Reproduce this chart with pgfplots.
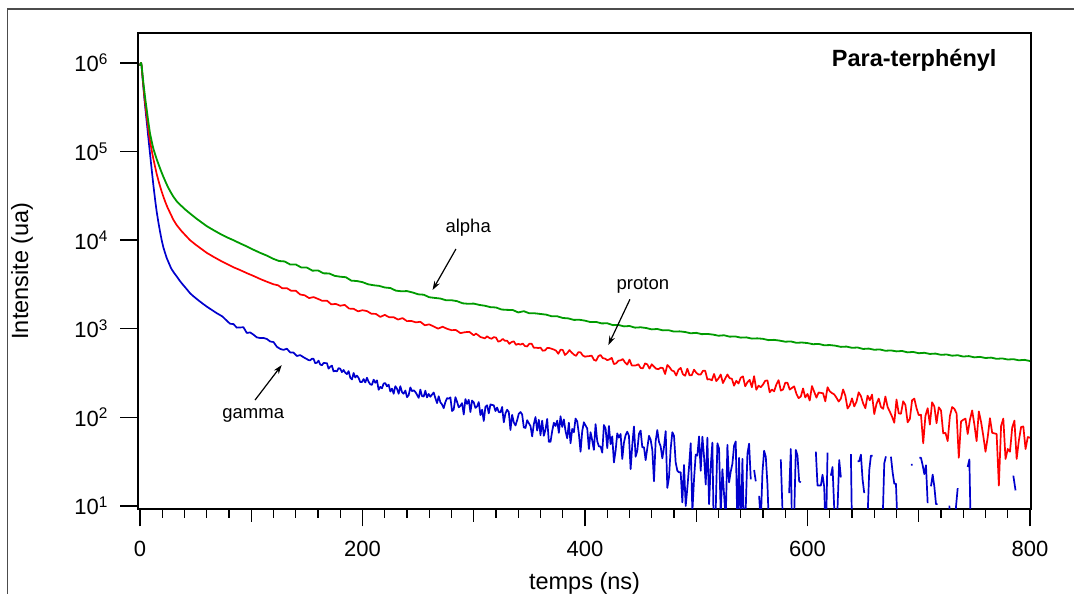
\documentclass[border=0pt]{standalone}
\usepackage{fontspec}
\setmainfont{Liberation Sans}
\usepackage{pgfplots}
\pgfplotsset{compat=1.18}
\usepackage{pgfplotstable}
\usetikzlibrary{arrows.meta}
\definecolor{cgreen}{RGB}{0,155,0}
\definecolor{cred}{RGB}{255,0,0}
\definecolor{cblue}{RGB}{0,0,205}
\begin{document}
\pgfplotstableread{
t v
0 930000
0.5 990000
1 1000000
1.5 930000
2 800000
3 600000
4 470000
5 370000
6 300000
7 240000
8 195000
9 160000
10 140000
11 122000
12 108000
13.5 94000
15 82000
17 70000
19 60000
21 52000
23 45500
25 40000
27.5 35000
30 31000
33 27500
37 24500
41 22000
45 20000
50 17800
55 16000
60 14400
66 13000
72 11800
78 10800
84 10000
90 9200
96 8500
102 7800
108 7200
114 6700
120 6150
125 5820
130 5755
135 5315
140 5320
145 4915
150 4910
155 4530
160 4555
165 4225
170 4215
175 3960
180 3870
185 3820
190 3495
195 3460
200 3360
205 3180
210 3100
215 3050
220 2925
225 2885
230 2695
235 2650
240 2665
245 2570
250 2450
255 2425
260 2270
265 2230
270 2195
275 2100
280 2100
285 2050
290 1940
295 1915
300 1925
305 1860
310 1820
315 1755
320 1740
325 1650
330 1635
335 1630
340 1530
345 1580
350 1495
355 1495
360 1470
365 1445
370 1385
375 1385
380 1325
385 1310
390 1260
395 1265
400 1235
405 1190
410 1195
415 1150
420 1155
425 1100
430 1105
435 1065
440 1075
445 1030
450 1040
455 1020
460 985
465 995
470 960
475 965
480 930
485 935
490 920
495 890
500 900
505 870
510 875
515 860
520 835
525 845
530 815
535 820
540 795
545 800
550 775
555 780
560 770
565 745
570 750
575 735
580 715
585 720
590 695
595 700
600 690
605 670
610 675
615 652
620 655
625 645
630 625
635 630
640 610
645 615
650 592
655 598
660 580
665 585
670 565
675 570
680 556
685 562
690 542
695 548
700 530
705 536
710 520
715 525
720 508
725 513
730 497
735 503
740 486
745 492
750 476
755 482
760 468
765 473
770 458
775 463
780 450
785 454
790 441
795 446
800 433
}\alphadata
\pgfplotstableread{
t v
0 930000
0.5 990000
1 1000000
1.5 920000
2 760000
3 560000
4 410000
5 320000
6 250000
7 200000
8 158000
9 132000
10 112000
11 96000
12 83000
13.5 68000
15 56000
17 45000
19 37000
21 31000
23 26500
25 23000
27.5 19800
30 17000
33 14800
37 12800
41 11300
45 10000
50 8900
55 8000
60 7200
66 6500
72 5900
78 5400
84 4950
90 4600
96 4250
102 3950
108 3650
114 3400
120 3180
124 3100
128 2860
132 2875
136 2680
140 2690
144 2435
148 2390
152 2220
156 2280
160 2175
164 2065
168 2080
172 1885
176 1910
180 1820
184 1860
188 1690
192 1680
196 1575
200 1620
204 1585
208 1478
212 1472
216 1362
220 1435
224 1350
228 1350
232 1272
236 1320
240 1220
244 1225
248 1182
252 1200
256 1096
260 1122
264 1062
268 1004
272 1055
276 1000
280 965
284 969
288 893
292 915
296 924
300 845
302 881
304 847
306 808
308 794
310 780
312 822
314 788
316 772
318 805
320 796
322 716
324 729
326 769
328 733
330 734
332 676
334 709
336 722
338 659
340 676
342 662
344 681
346 639
348 632
350 678
352 680
354 611
356 613
358 606
360 613
362 566
364 569
366 607
368 606
370 595
372 583
374 566
376 522
378 580
380 578
382 506
384 532
386 575
388 540
390 511
392 495
394 545
396 542
398 500
400 484
402 490
404 492
406 498
408 447
410 435
412 491
414 506
416 466
418 461
420 442
422 452
424 470
426 400
428 407
430 436
432 441
434 455
436 416
438 394
440 449
442 386
444 384
446 387
448 398
450 361
452 358
454 407
456 396
458 355
460 398
462 374
464 354
466 350
468 364
470 360
472 309
474 390
476 368
478 339
480 331
482 297
484 345
486 362
488 307
490 295
492 354
494 298
496 300
498 346
500 319
502 305
504 305
506 335
508 337
510 268
512 270
514 262
516 309
518 257
520 275
522 305
524 244
526 274
528 305
530 277
532 273
534 228
536 259
538 241
540 281
542 290
544 224
546 250
548 265
550 219
552 292
554 205
556 228
558 219
560 235
562 259
564 261
566 192
568 206
570 197
572 235
574 263
576 201
578 206
580 246
582 246
584 206
586 215
588 224
590 185
592 165
594 172
596 212
598 168
600 184
602 155
604 226
606 195
608 167
610 191
612 189
614 187
616 152
618 219
620 197
622 188
624 182
626 167
628 151
630 163
632 207
634 176
636 126
638 137
640 164
642 133
644 150
646 192
648 174
650 144
652 127
654 176
656 156
658 181
660 109
662 142
664 163
666 131
668 125
670 172
672 131
674 116
676 102
678 87
680 159
682 111
684 110
686 152
688 138
690 88
692 96
694 156
696 163
698 127
700 106
702 107
704 51
706 104
708 127
710 83
712 148
714 133
716 86
718 130
720 120
722 66
724 67
726 54
728 104
730 131
732 125
734 111
736 35
738 90
740 94
742 97
744 65
746 94
748 120
750 83
752 54
754 117
756 89
758 62
760 41
762 60
764 98
766 67
768 66
770 65
772 17
774 80
776 97
778 34
780 44
782 41
784 77
786 92
788 34
790 55
792 78
794 79
796 44
798 60
800 59
}\protondata
\pgfplotstableread{
t v
0 930000
0.5 990000
1 1000000
1.5 910000
2 750000
3 540000
4 390000
5 290000
6 220000
7 165000
8 125000
9 95000
10 72000
11 55000
12 42000
13 33000
14 26000
15 21000
16.5 16000
18 12500
19.5 10000
21 8300
22.5 7200
24 6300
26 5500
28 4800
30.5 4300
33 3900
36 3450
39 3100
42 2800
45 2520
48 2330
52 2120
56 1940
60 1780
64 1650
69 1500
74 1380
78 1234
81 1139
84 1131
87 1030
90 1036
93 1040
96 897
99 910
102 859
105 800
108 787
111 788
114 768
117 719
120 709
123 627
126 593
129 578
132 596
135 541
138 539
141 493
144 505
147 477
150 455
151.5 443
153 441
154.5 459
156 458
157.5 409
159 414
160.5 437
162 395
163.5 388
165 411
166.5 410
168 410
169.5 355
171 373
172.5 384
174 330
175.5 336
177 330
178.5 360
180 354
181.5 324
183 343
184.5 319
186 308
187.5 333
189 280
190.5 268
192 317
193.5 282
195 296
196.5 279
198 250
199.5 251
201 271
202.5 248
204 280
205.5 252
207 236
208.5 233
210 267
211.5 246
213 262
214.5 205
216 221
217.5 213
219 241
220.5 244
222 224
223.5 234
225 196
226.5 211
228 185
229.5 225
231 211
232.5 185
234 225
235.5 193
237 185
238.5 201
240 169
241.5 178
243 218
244.5 198
246 202
247.5 194
249 180
250.5 166
252 206
253.5 174
255 172
256.5 200
258 168
259.5 184
261 171
262.5 181
264 191
265.5 165
267 145
268.5 173
270 148
271.5 140
273 127
274.5 149
276 165
277.5 163
279 168
280.5 118
282 123
283.5 169
285 150
286.5 130
288 135
289.5 145
291 108
292.5 161
294 142
295.5 158
297 115
298.5 155
300 148
301.5 128
303 133
304.5 149
306 106
307.5 122
309 91
310.5 132
312 137
313.5 111
315 140
316.5 138
318 137
319.5 118
321 129
322.5 115
324 114
325.5 131
327 88
328.5 111
330 122
331.5 115
333 72
334.5 107
336 88
337.5 81
339 93
340.5 110
342 115
343.5 108
345 77
346.5 76
348 93
349.5 86
351 80
352.5 61
354 84
355.5 101
357 71
358.5 94
360 63
361.5 92
363 62
364.5 73
366 96
367.5 53
369 53
370.5 70
372 87
373.5 80
375 92
376.5 67
378 103
379.5 78
381 95
382.5 70
384 58
385.5 87
387 51
388.5 74
390 68
391.5 97
393 90
394.5 65
396 41
397.5 70
399 88
400.5 81
402 75
403.5 44
405 68
406.5 55
408 43
409.5 84
411 54
412.5 47
414 47
415.5 40
417 82
418.5 75
420 45
421.5 80
423 50
424.5 61
426 31
427.5 42
429 66
430.5 59
432 65
433.5 34
435 52
436.5 63
438 69
439.5 62
441 26
442.5 49
444 79
445.5 36
447 42
448.5 65
450 71
451.5 46
453 46
454.5 33
456 45
457.5 62
459 56
460.5 43
462 19
463.5 54
465 72
466.5 53
468 47
469.5 34.5
471 46
472.5 70
474 16
475.5 21
477 44
478.5 68
480 62
481.5 31
483 25
484.5 24
486 24
487.5 11
489 29
490.5 10
492 16
493.5 27.5
495 51
496.5 8.5
498 20
499.5 38
501 37
502.5 61
504 25
505.5 60.5
507 36
508.5 17.5
510 59
511.5 10.5
513 28
514.5 52
516 3
517.5 9
519 51
520.5 44.5
522 8
523.5 26
525 13.5
526.5 7
528 49
529.5 18.5
531 24.5
532.5 30
534 48
535.5 53.5
537 5.5
538.5 35
540 4.5
541.5 34
543 4
544.5 9.5
546 39
547.5 50.5
549 20
550.5 nan
552 25.5
553.5 19
555 nan
556.5 13
558 6.5
559.5 24
561 42
562.5 36
564 17.5
565.5 5
567 nan
568.5 47
570 nan
571.5 nan
573 4
574.5 nan
576 33.5
577.5 9
579 nan
580.5 9
582 nan
583.5 14
585 44
586.5 2
588 7.5
589.5 43
591 37
592.5 19
594 18.5
595.5 nan
597 nan
598.5 24
600 nan
601.5 nan
603 nan
604.5 17.5
606 nan
607.5 41
609 17
610.5 17
612 17
613.5 22.5
615 16.5
616.5 4
618 40
619.5 nan
621 22
622.5 27.5
624 9.5
625.5 3.5
627 9.5
628.5 33
630 21
631.5 nan
633 nan
634.5 2.5
636 nan
637.5 nan
639 38.5
640.5 2
642 8
643.5 nan
645 32
646.5 32
648 38
649.5 20
651 14
652.5 nan
654 7.5
655.5 25.3
657 37
658.5 37
660 nan
661.5 6.9
663 nan
664.5 nan
666 nan
667.5 6.5
669 30.4
670.5 36.3
672 nan
673.5 nan
675 36
676.5 24
678 17.9
679.5 17.8
681 5.8
682.5 nan
684 5.6
685.5 nan
687 nan
688.5 nan
690 29.4
691.5 nan
693 29.3
694.5 29.2
696 nan
697.5 nan
699 nan
700.5 35
702 35
703.5 28.9
705 22.9
706.5 28.8
708 10.8
709.5 nan
711 16.7
712.5 22.6
714 16.6
715.5 10.5
717 10.5
718.5 nan
720 34.4
721.5 nan
723 nan
724.5 34.2
726 nan
727.5 10.1
729 4.1
730.5 nan
732 4
733.5 9.9
735 15.9
736.5 nan
738 nan
739.5 nan
741 nan
742.5 nan
744 27.6
745.5 33.5
747 3.5
748.5 nan
750 21.5
751.5 nan
753 9.5
756 nan
759 4
762 nan
765 5
768 nan
771 3
774 nan
777 6
780 nan
783 nan
785 22
787 15
789 nan
792 4
795 nan
798 5
800 nan
}\gammadata
\begin{tikzpicture}
\useasboundingbox (0,0) rectangle (1074bp,594bp);
\begin{axis}[
  at={(138bp,85bp)}, anchor=south west,
  scale only axis, width=893bp, height=476bp,
  xmin=-1.8, xmax=800.9,
  ymode=log, ymin=9.25, ymax=2.18e6,
  axis line style={line width=1.6bp},
  every tick/.style={black, line width=1.4bp},
  tick align=outside, tick pos=left,
  major tick length=17.5bp, minor tick length=9bp,
  xtick={0,200,400,600,800}, minor x tick num=9,
  extra x ticks={100,300,500,700}, extra x tick labels={},
  extra x tick style={major tick length=13bp},
  ytick={10,100,1000,10000,100000,1000000},
  yticklabels={10\textsuperscript{1},10\textsuperscript{2},10\textsuperscript{3},10\textsuperscript{4},10\textsuperscript{5},10\textsuperscript{6}},
  yminorticks=false,
  /pgf/number format/assume math mode=true,
  ticklabel style={font=\fontsize{22bp}{24bp}\selectfont},
  xticklabel style={yshift=-11bp},
  yticklabel style={xshift=-9bp},
  unbounded coords=jump,
]
\addplot[cblue, line width=1.7bp, line join=round] table[x=t,y=v]{\gammadata};
\addplot[cred, line width=1.7bp, line join=round] table[x=t,y=v]{\protondata};
\addplot[cgreen, line width=1.8bp, line join=round] table[x=t,y=v]{\alphadata};
\node[font=\fontsize{18.5bp}{20bp}\selectfont] at (axis cs:295,13700) {alpha};
\draw[-{Stealth[length=9bp,width=6bp]}, line width=1.2bp] (axis cs:284,7960) -- (axis cs:263,2740);
\node[font=\fontsize{18.5bp}{20bp}\selectfont] at (axis cs:452,3120) {proton};
\draw[-{Stealth[length=9bp,width=6bp]}, line width=1.2bp] (axis cs:440.4,2150) -- (axis cs:421,656);
\node[font=\fontsize{18.5bp}{20bp}\selectfont] at (axis cs:101.8,106) {gamma};
\draw[-{Stealth[length=9bp,width=6bp]}, line width=1.2bp] (axis cs:103.4,157) -- (axis cs:127.4,390);
\node[anchor=base east, xshift=-31bp, yshift=-34bp, font=\bfseries\fontsize{23.5bp}{25bp}\selectfont] at (rel axis cs:1,1) {Para-terphényl};
\end{axis}
\draw[black!70, line width=1.5bp] (7.5bp,-10bp) -- (7.5bp,585bp) -- (1090bp,585bp);
\node[rotate=90, font=\fontsize{23.5bp}{25bp}\selectfont] at (22bp,323bp) {Intensite (ua)};
\node[anchor=base, font=\fontsize{23.5bp}{25bp}\selectfont] at (584.5bp,5bp) {temps (ns)};
\end{tikzpicture}
\end{document}
